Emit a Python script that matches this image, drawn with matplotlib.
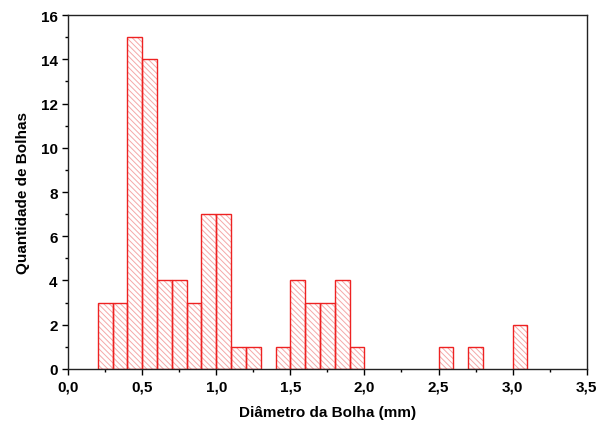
import matplotlib
matplotlib.use("Agg")
import matplotlib.pyplot as plt
from matplotlib.ticker import MultipleLocator, FuncFormatter

bin_left = [0.2, 0.3, 0.4, 0.5, 0.6, 0.7, 0.8, 0.9, 1.0, 1.1, 1.2, 1.4, 1.5, 1.6, 1.7, 1.8, 1.9, 2.5, 2.7, 3.0]
counts   = [3,   3,   15,  14,  4,   4,   3,   7,   7,   1,   1,   1,   4,   3,   3,   4,   1,   1,   1,   2]
bin_width = 0.1

plt.rcParams['font.family'] = ['Liberation Sans', 'DejaVu Sans']
plt.rcParams['hatch.linewidth'] = 0.7

fig = plt.figure(figsize=(6.08, 4.27), dpi=100)
ax = fig.add_axes([0.112, 0.1335, 0.853, 0.829])

# hatch layer (light pink)
ax.bar(bin_left, counts, width=bin_width, align='edge', facecolor='white',
       edgecolor='#f4a8a8', linewidth=0, hatch='\\' * 6)
# outline layer (red)
ax.bar(bin_left, counts, width=bin_width, align='edge', facecolor='none',
       edgecolor='#ee2222', linewidth=1.0)

ax.set_xlim(0, 3.5)
ax.set_ylim(0, 16)
ax.xaxis.set_major_locator(MultipleLocator(0.5))
ax.xaxis.set_minor_locator(MultipleLocator(0.25))
ax.yaxis.set_major_locator(MultipleLocator(2))
ax.yaxis.set_minor_locator(MultipleLocator(1))
ax.xaxis.set_major_formatter(FuncFormatter(lambda v, p: f"{v:.1f}".replace('.', ',')))
ax.tick_params(which='major', direction='out', length=4, width=1, labelsize=11)
ax.tick_params(which='minor', direction='out', length=2.5, width=1)
for lbl in ax.get_xticklabels() + ax.get_yticklabels():
    lbl.set_fontweight('bold')
for s in ax.spines.values():
    s.set_linewidth(1.0)
    s.set_color('#222222')

ax.set_xlabel('Diâmetro da Bolha (mm)', fontsize=11, fontweight='bold', labelpad=8)
ax.set_ylabel('Quantidade de Bolhas', fontsize=11, fontweight='bold', labelpad=8)

fig.savefig('out.png', dpi=100)
